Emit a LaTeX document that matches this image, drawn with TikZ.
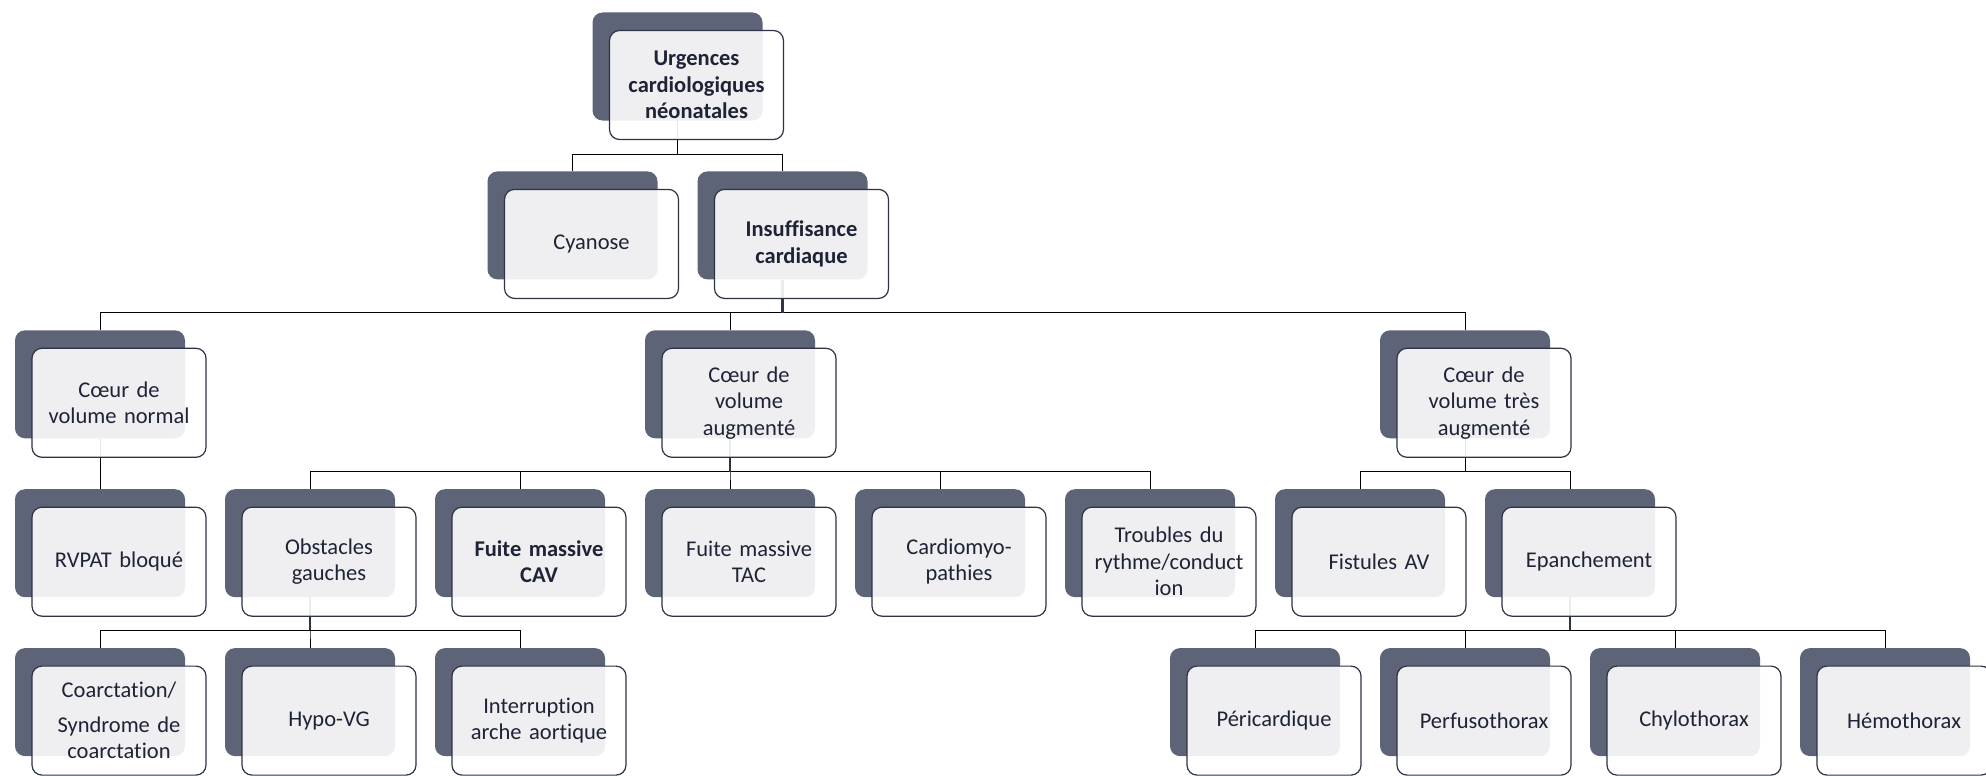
\documentclass[tikz,border=0pt]{standalone}
\usepackage{fontspec}
\setmainfont{Carlito}[Ligatures=NoCommon]
\usetikzlibrary{backgrounds}
\definecolor{backc}{HTML}{5D6478}
\definecolor{linec}{HTML}{2E3345}
\definecolor{txtc}{HTML}{1E2336}
\begin{document}
\begin{tikzpicture}[x=1pt,y=-1pt,
    back/.style={fill=backc, rounded corners=10pt, minimum width=170pt,
      minimum height=108pt, inner sep=0pt},
    front/.style={draw=linec, line width=1.2pt, fill=white, fill opacity=0.9,
      text opacity=1, rounded corners=10pt, minimum width=174pt,
      minimum height=109pt, text width=170pt, align=center, inner sep=0pt,
      xshift=19pt, yshift=-18.5pt, text=txtc,
      font=\fontsize{22.5}{26.5}\selectfont},
    link/.style={draw=linec, line width=1.3pt},
    stem/.style={draw=linec, line width=2.6pt}]
  \useasboundingbox (0,0) rectangle (1986,776);
  % back boxes
  \node[back] (rootB) at (677.5,66.5) {};
  \node[back] (cyanB) at (572.5,225.4) {};
  \node[back] (insufB) at (782.5,225.4) {};
  \node[back] (normalB) at (100,384.3) {};
  \node[back] (augmB) at (730,384.3) {};
  \node[back] (tresB) at (1465,384.3) {};
  \node[back] (rvpatB) at (100,543.2) {};
  \node[back] (obstB) at (310,543.2) {};
  \node[back] (cavB) at (520,543.2) {};
  \node[back] (tacB) at (730,543.2) {};
  \node[back] (cardioB) at (940,543.2) {};
  \node[back] (trblB) at (1150,543.2) {};
  \node[back] (fistB) at (1360,543.2) {};
  \node[back] (epanB) at (1570,543.2) {};
  \node[back] (coarcB) at (100,702.1) {};
  \node[back] (hypoB) at (310,702.1) {};
  \node[back] (interB) at (520,702.1) {};
  \node[back] (periB) at (1255,702.1) {};
  \node[back] (perfB) at (1465,702.1) {};
  \node[back] (chyloB) at (1675,702.1) {};
  \node[back] (hemoB) at (1885,702.1) {};
  % front boxes
  \node[front] (root) at (rootB) {\bfseries Urgences\\cardiologiques\\néonatales};
  \node[front] (cyan) at (cyanB) {Cyanose};
  \node[front] (insuf) at (insufB) {\bfseries Insuffisance\\cardiaque};
  \node[front] (normal) at (normalB) {Cœur de\\volume normal};
  \node[front] (augm) at (augmB) {Cœur de\\volume\\augmenté};
  \node[front] (tres) at (tresB) {Cœur de\\volume très\\augmenté};
  \node[front] (rvpat) at (rvpatB) {RVPAT bloqué};
  \node[front] (obst) at (obstB) {Obstacles\\gauches};
  \node[front] (cav) at (cavB) {\bfseries Fuite massive\\CAV};
  \node[front] (tac) at (tacB) {Fuite massive\\TAC};
  \node[front] (cardio) at (cardioB) {Cardiomyo-\\pathies};
  \node[front] (trbl) at (trblB) {Troubles du\\rythme/conduct\\ion};
  \node[front] (fist) at (fistB) {Fistules AV};
  \node[front] (epan) at (epanB) {Epanchement};
  \node[front] (coarc) at (coarcB) {Coarctation/\\[8pt]Syndrome de\\coarctation};
  \node[front] (hypo) at (hypoB) {Hypo-VG};
  \node[front] (inter) at (interB) {Interruption\\arche aortique};
  \node[front] (peri) at (periB) {Péricardique};
  \node[front] (perf) at (perfB) {Perfusothorax};
  \node[front] (chylo) at (chyloB) {Chylothorax};
  \node[front] (hemo) at (hemoB) {Hémothorax};
  \begin{scope}[on background layer, link]
    \draw (rootB.south) -- ++(0,33) -| (cyanB.north);
    \draw (rootB.south) -- ++(0,33) -| (insufB.north);
    \draw (insufB.south) -- ++(0,33) -| (normalB.north);
    \draw (insufB.south) -- ++(0,33) -| (augmB.north);
    \draw (insufB.south) -- ++(0,33) -| (tresB.north);
    \draw (normalB.south) -- (rvpatB.north);
    \draw (augmB.south) -- ++(0,33) -| (obstB.north);
    \draw (augmB.south) -- ++(0,33) -| (cavB.north);
    \draw (augmB.south) -- ++(0,33) -| (tacB.north);
    \draw (augmB.south) -- ++(0,33) -| (cardioB.north);
    \draw (augmB.south) -- ++(0,33) -| (trblB.north);
    \draw (tresB.south) -- ++(0,33) -| (fistB.north);
    \draw (tresB.south) -- ++(0,33) -| (epanB.north);
    \draw (obstB.south) -- ++(0,33) -| (coarcB.north);
    \draw (obstB.south) -- ++(0,33) -| (hypoB.north);
    \draw (obstB.south) -- ++(0,33) -| (interB.north);
    \draw (epanB.south) -- ++(0,33) -| (periB.north);
    \draw (epanB.south) -- ++(0,33) -| (perfB.north);
    \draw (epanB.south) -- ++(0,33) -| (chyloB.north);
    \draw (epanB.south) -- ++(0,33) -| (hemoB.north);
    \draw[stem] (insufB.south) -- ++(0,33);
    \draw[stem] (augmB.south) -- ++(0,33);
    \draw[stem] (obstB.south) -- ++(0,33);
    \draw[stem] (epanB.south) -- ++(0,33);
  \end{scope}
\end{tikzpicture}
\end{document}
